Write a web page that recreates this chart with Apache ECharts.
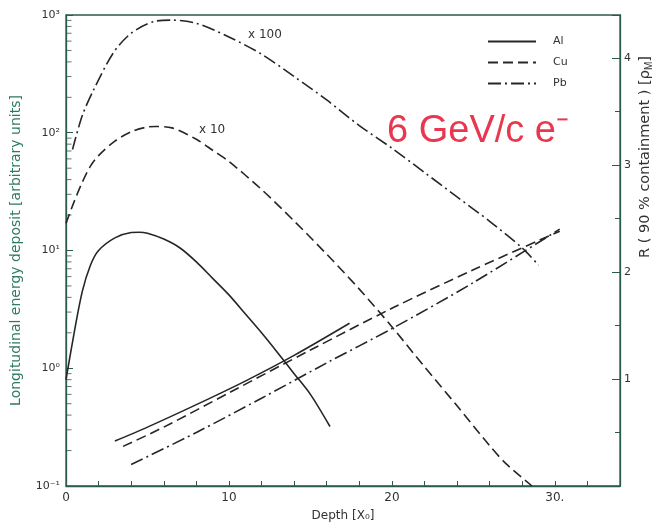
<!DOCTYPE html>
<html>
<head>
<meta charset="utf-8">
<script src="https://cdn.jsdelivr.net/npm/echarts@6/dist/echarts.min.js"></script>
<style>
  html, body { margin: 0; padding: 0; background: #fff; }
  #chart { width: 658px; height: 527px; }
</style>
</head>
<body>
<div id="chart"></div>
<script>
// longitudinal profiles [depth X0, deposit]  (Cu x10, Pb x100 as drawn)
const alProfile = [[0, 0.8], [0.5, 2.0], [1, 4.5], [1.5, 7.5], [2, 10], [3, 12.8], [4, 14.2], [4.5, 14.3],
  [5, 14], [6, 12.5], [7, 10.5], [8, 8], [9, 5.8], [10, 4.2], [11, 2.9], [12, 2.0], [13, 1.35],
  [14, 0.9], [15, 0.6], [16.2, 0.32]]
const cuProfile = [[0, 17], [0.5, 26], [1, 38], [1.5, 52], [2, 64], [3, 85], [4, 102], [5, 112], [5.5, 113],
  [6.5, 110], [8, 88], [9, 71], [10, 57], [12, 33], [14, 17.8], [16, 9.3], [18, 4.7], [20, 2.25],
  [22, 1.03], [24, 0.48], [26, 0.22], [27, 0.155], [28.6, 0.1]]
const pbProfile = [[0.4, 72], [1, 140], [1.7, 232], [2.9, 476], [4, 700], [5.4, 880], [6.5, 905], [8, 850],
  [10, 650], [12, 465], [14, 300], [16, 190], [18, 115], [20, 74], [22, 46], [24, 28.5], [26, 17.7],
  [28, 10.5], [29, 7.5]]

// 90% containment radius [depth X0, R in Moliere radii]
const alRadius = [[3, 0.42], [5, 0.55], [8, 0.76], [11, 0.98], [14, 1.22], [17.4, 1.52]]
const cuRadius = [[3.5, 0.37], [6, 0.55], [10, 0.87], [15, 1.27], [20, 1.66], [25, 2.02], [30.3, 2.38]]
const pbRadius = [[4, 0.2], [8, 0.5], [12, 0.82], [16, 1.15], [20, 1.47], [25, 1.9], [30.3, 2.4]]

// axis ticks
const depthLabels = [0, 10, 20, 30]
const minorBase = [2, 3, 4, 5, 6, 7, 8, 9]
const decades = [0.1, 1, 10, 100]
const supers = { '-1': '10⁻¹', '0': '10⁰', '1': '10¹', '2': '10²', '3': '10³' }

const minorTicks = []
decades.forEach(d => minorBase.forEach(b => minorTicks.push([0, b * d])))

const axisColor = '#2d5a4e'
const lineColor = '#262626'

const chart = echarts.init(document.getElementById('chart'))

const lineSeries = (name, data, yAxisIndex, type) => ({
  name: name,
  type: 'line',
  data: data,
  yAxisIndex: yAxisIndex,
  smooth: 0.3,
  symbol: 'none',
  silent: true,
  lineStyle: { color: lineColor, width: 1.6, type: type },
  itemStyle: { color: lineColor }
})

const dashCu = [10, 5]
const dashPb = [13, 4, 2, 4]

chart.setOption({
  animation: false,
  textStyle: { fontFamily: 'DejaVu Sans' },
  grid: {
    left: 66, right: 38, top: 15, bottom: 39,
    show: true, borderColor: axisColor, borderWidth: 1.3
  },
  legend: {
    orient: 'vertical',
    left: 482, top: 31,
    itemWidth: 48, itemHeight: 12, itemGap: 10,
    data: ['Al', 'Cu', 'Pb'],
    itemStyle: { opacity: 0 },
    textStyle: { color: '#333', fontSize: 11, padding: [0, 0, 0, 12] }
  },
  xAxis: {
    type: 'value',
    min: 0, max: 34, interval: 2,
    name: 'Depth [X₀]',
    nameLocation: 'middle',
    nameGap: 24,
    nameTextStyle: { color: '#333', fontSize: 12 },
    axisLine: { show: true, lineStyle: { color: axisColor, width: 1.3 } },
    axisTick: { show: true, inside: true, length: 5, lineStyle: { color: axisColor } },
    axisLabel: {
      color: '#333', fontSize: 12, margin: 6,
      formatter: v => depthLabels.includes(v) ? (v === 30 ? '30.' : String(v)) : ''
    },
    splitLine: { show: false }
  },
  yAxis: [
    {
      type: 'log',
      logBase: 10,
      min: 0.1, max: 1000,
      splitNumber: 4,
      name: 'Longitudinal energy deposit [arbitrary units]',
      nameLocation: 'middle',
      nameGap: 43,
      nameTextStyle: { color: '#2f7a63', fontSize: 14 },
      axisLine: { show: true, lineStyle: { color: axisColor, width: 1.3 } },
      axisTick: { show: true, inside: true, length: 7, lineStyle: { color: axisColor } },
      axisLabel: {
        color: '#333', fontSize: 11, margin: 6,
        formatter: v => supers[String(Math.round(Math.log10(v)))]
      },
      splitLine: { show: false }
    },
    {
      type: 'value',
      position: 'right',
      min: 0, max: 4.4, interval: 1,
      axisLine: { show: true, lineStyle: { color: axisColor, width: 1.3 } },
      axisTick: { show: true, inside: true, length: 8, lineStyle: { color: axisColor } },
      minorTick: { show: true, splitNumber: 2, length: 5, lineStyle: { color: axisColor } },
      axisLabel: {
        color: '#333', fontSize: 11, margin: 4,
        formatter: v => (v > 0 && Number.isInteger(v)) ? String(v) : ''
      },
      splitLine: { show: false }
    }
  ],
  graphic: [
    {
      type: 'text', left: 248, top: 29,
      style: { text: 'x 100', fill: '#333', font: '12px DejaVu Sans' }
    },
    {
      type: 'text', left: 199, top: 124,
      style: { text: 'x 10', fill: '#333', font: '12px DejaVu Sans' }
    },
    {
      type: 'text', left: 387, top: 113,
      style: { text: '6 GeV/c e⁻', fill: '#e8374f', font: '38px Liberation Sans' }
    },
    {
      type: 'text', x: 637, y: 258, rotation: Math.PI / 2,
      style: {
        text: 'R ( 90 % containment ) [ρ{s|M}]',
        fill: '#333', font: '14.5px DejaVu Sans',
        rich: { s: { fontSize: 10, fill: '#333', padding: [7, 0, 0, 0] } }
      }
    }
  ],
  series: [
    lineSeries('Al', alProfile, 0, 'solid'),
    lineSeries('Cu', cuProfile, 0, dashCu),
    lineSeries('Pb', pbProfile, 0, dashPb),
    lineSeries('Al', alRadius, 1, 'solid'),
    lineSeries('Cu', cuRadius, 1, dashCu),
    lineSeries('Pb', pbRadius, 1, dashPb),
    {
      name: 'minor',
      type: 'scatter',
      yAxisIndex: 0,
      data: minorTicks,
      symbol: 'rect',
      symbolSize: [5, 1],
      symbolOffset: [3, 0],
      silent: true,
      itemStyle: { color: axisColor }
    }
  ]
})
</script>
</body>
</html>
